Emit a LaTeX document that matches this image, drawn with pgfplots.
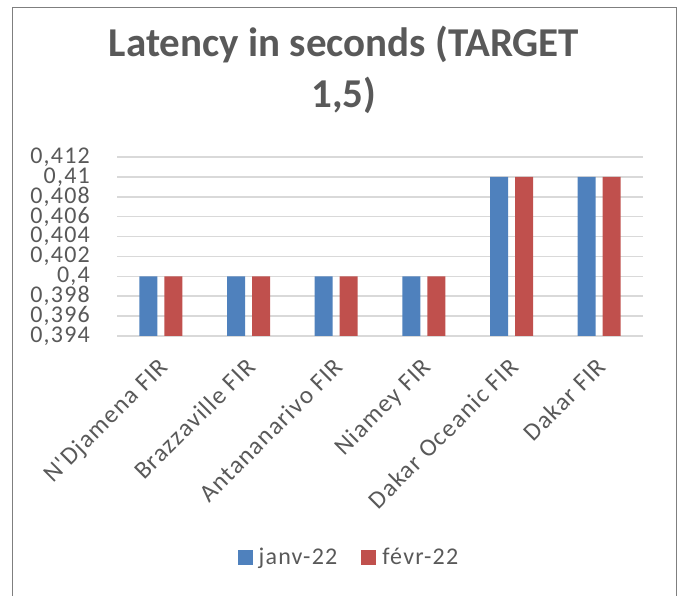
\documentclass[border=0pt]{standalone}
\usepackage{fontspec}
\setmainfont{Carlito}
\newfontfamily\spaced{Carlito}[LetterSpace=5]
\usepackage{pgfplots}
\pgfplotsset{compat=1.18}
\definecolor{txtgray}{HTML}{595959}
\definecolor{gridgray}{HTML}{D9D9D9}
\definecolor{barblue}{HTML}{4F81BD}
\definecolor{barred}{HTML}{C0504D}
\definecolor{framegray}{HTML}{7F7F7F}
\begin{document}
\begin{tikzpicture}[x=1pt,y=1pt]
\path[use as bounding box] (0,0) rectangle (680,596);
\draw[framegray, line width=1.5pt] (12.5,0) -- (12.5,588.5) -- (676.5,588.5) -- (676.5,0);
\node[anchor=base, font=\fontsize{41}{46}\selectfont\bfseries, text=txtgray, inner sep=0pt] at (344,539) {Latency in seconds (TARGET};
\node[anchor=base, font=\fontsize{41}{46}\selectfont\bfseries, text=txtgray, inner sep=0pt] at (344,488) {1,5)};
\begin{axis}[
  at={(117pt,260pt)}, anchor=south west,
  scale only axis, width=526pt, height=179pt,
  ybar=7pt, bar width=18pt,
  ymin=0.394, ymax=0.412,
  ytick={0.394,0.396,0.398,0.4,0.402,0.404,0.406,0.408,0.41,0.412},
  xmin=-0.5, xmax=5.5,
  xtick=data,
  xticklabels={N'Djamena FIR, Brazzaville FIR, Antananarivo FIR, Niamey FIR, Dakar Oceanic FIR, Dakar FIR},
  axis line style={draw=none},
  major tick length=0pt,
  ymajorgrids, grid style={gridgray, line width=1.6pt},
  tick label style={text=txtgray},
  yticklabel style={font=\spaced\fontsize{24}{24}\selectfont, /pgf/number format/.cd, fixed, precision=3, use comma, assume math mode=true, /tikz/.cd, anchor=east, inner sep=0pt, xshift=-27pt},
  xticklabel style={font=\spaced\fontsize{25}{25}\selectfont, yshift=-20pt, xshift=-4pt, anchor=north east, inner sep=0pt, rotate=45},
  legend style={at={(0.441,-1.235)}, anchor=center, draw=none, fill=none, font=\spaced\fontsize{24}{24}\selectfont, text=txtgray, /tikz/every even column/.append style={column sep=22pt}},
  legend columns=2,
  legend image code/.code={\fill[#1] (0pt,-7.5pt) rectangle (15pt,7.5pt);},
]
\addplot[fill=barblue, draw=none] coordinates {(0,0.4) (1,0.4) (2,0.4) (3,0.4) (4,0.41) (5,0.41)};
\addplot[fill=barred, draw=none] coordinates {(0,0.4) (1,0.4) (2,0.4) (3,0.4) (4,0.41) (5,0.41)};
\legend{\hspace{4pt}janv-22, \hspace{4pt}févr-22}
\end{axis}
\end{tikzpicture}
\end{document}
